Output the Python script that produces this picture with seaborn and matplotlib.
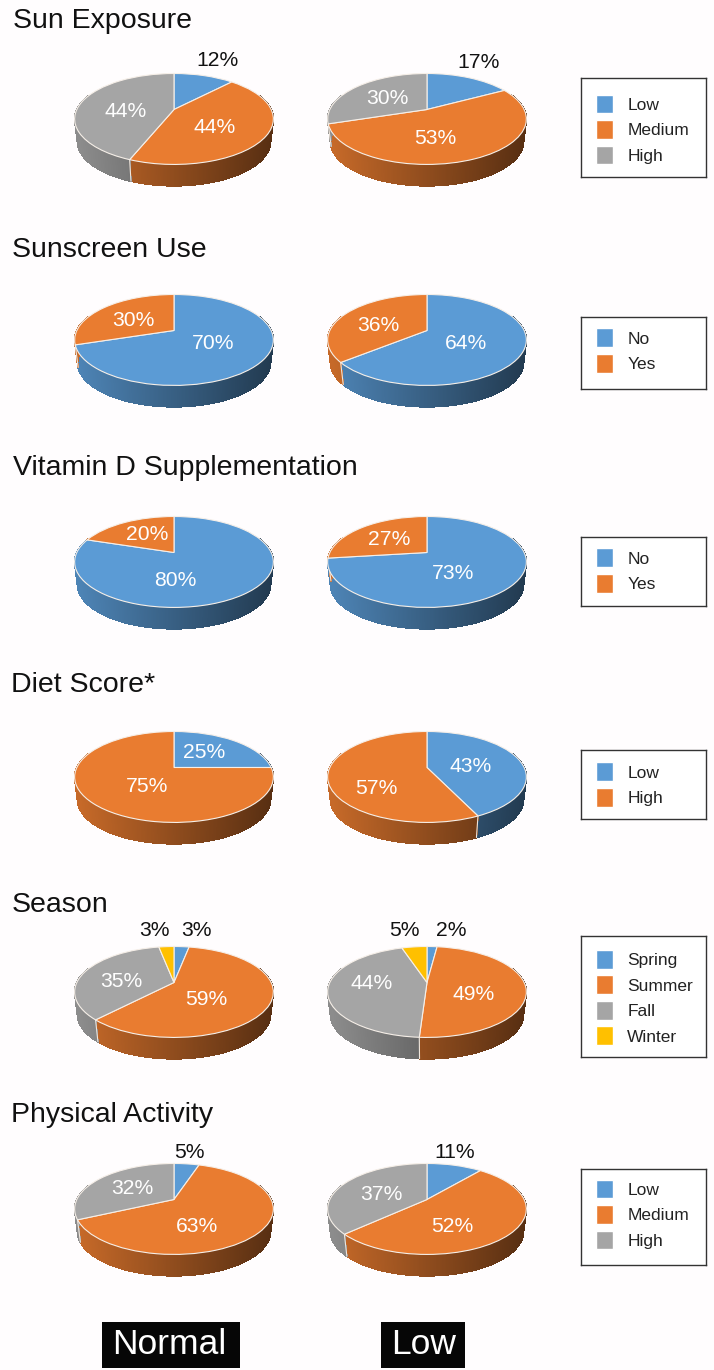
import numpy as np
import pandas as pd
import seaborn as sns
import matplotlib.pyplot as plt
from matplotlib.collections import PolyCollection
from matplotlib.patches import Patch
from matplotlib.transforms import Transform

# Datos

titles = ["Sun Exposure", "Sunscreen Use", "Vitamin D Supplementation", "Diet Score*", "Season", "Physical Activity"]
categories = [
    ["Low", "Medium", "High"],
    ["No", "Yes"],
    ["No", "Yes"],
    ["Low", "High"],
    ["Spring", "Summer", "Fall", "Winter"],
    ["Low", "Medium", "High"],
]
normal_values = [
    [12, 44, 44],
    [70, 30],
    [80, 20],
    [25, 75],
    [3, 59, 35, 3],
    [5, 63, 32],
]
low_values = [
    [17, 53, 30],
    [64, 36],
    [73, 27],
    [43, 57],
    [2, 49, 44, 5],
    [11, 52, 37],
]
group_names = ["Normal", "Low"]

# Layout en pixeles

W, H = 714, 1370
pie_top = [73, 294, 516, 731, 946, 1163]
pie_cx = [174, 427]
title_xy = [(13, 21), (12, 250), (13, 468), (11, 685), (12, 905), (11, 1115)]
legend_y = [(78, 177), (317, 389), (537, 606), (750, 819), (936, 1057), (1169, 1265)]
legend_mid = [129, 350, 570, 784, 997, 1214]
normal_label_xy = [
    [(217, 60), (215, 127), (126, 111)],
    [(213, 343), (133, 320)],
    [(175, 580), (147, 534)],
    [(204, 752), (147, 786)],
    [(196, 930), (206, 999), (121, 981), (154, 930)],
    [(189, 1153), (197, 1226), (132, 1189)],
]
low_label_xy = [
    [(479, 62), (435, 138), (387, 98)],
    [(466, 343), (378, 325)],
    [(453, 573), (389, 539)],
    [(471, 766), (376, 788)],
    [(451, 930), (474, 994), (372, 983), (404, 930)],
    [(455, 1152), (452, 1226), (381, 1194)],
]

RX, RY, DEPTH = 97.2, 43.5, 23
P = 0.208  # perspectiva
SHRINK = 0.97

sns.set_theme(style="white")
plt.rcParams["font.family"] = ["Liberation Sans", "DejaVu Sans"]
palette = sns.color_palette(["#5B9BD5", "#E97C30", "#A5A5A5", "#FFC000"])
BG = "#fffdfe"


class Tilt(Transform):
    input_dims = 2
    output_dims = 2

    def transform_non_affine(self, xy):
        xy = np.asarray(xy, dtype=float)
        return xy / (1 + P * xy[:, 1:2])


def rim(theta):
    x, y = np.sin(theta), np.cos(theta)
    w = 1 + P * y
    return x / w, y / w


def draw_pie(values, cx, top):
    apex = top + 36.5
    x0, x1 = cx - 112, cx + 112
    y0, y1 = apex - 45, apex + 90
    ax = fig.add_axes([x0 / W, 1 - y1 / H, (x1 - x0) / W, (y1 - y0) / H])

    wedges, _ = ax.pie(values, colors=palette[:len(values)], startangle=90, counterclock=False,
                       wedgeprops={"edgecolor": "#f6efe8", "linewidth": 0.8})
    tilt = Tilt()
    for w in wedges:
        w.set_transform(tilt + ax.transData)
    ax.set_aspect("auto")
    ax.set_xlim(-112 / RX, 112 / RX)
    ax.set_ylim(-90 / RY, 45 / RY)

    # Pared lateral
    d = DEPTH / RY
    ends = np.cumsum(values) / np.sum(values) * 2 * np.pi
    starts = np.r_[0, ends[:-1]]
    for start, end, color in zip(starts, ends, palette):
        t = np.linspace(start, end, max(int((end - start) * 90), 2))
        t = t[np.cos(t) < 0.35]
        if len(t) < 2:
            continue
        X, Y = rim(t)
        BX, BY = X * SHRINK, Y * SHRINK - d
        polys = [[(X[i], Y[i]), (X[i + 1], Y[i + 1]), (BX[i + 1], BY[i + 1]), (BX[i], BY[i])]
                 for i in range(len(t) - 1)]
        shade = 0.85 - 0.47 * (np.clip(X[:-1], -1, 1) + 1) / 2
        faces = np.outer(shade, np.array(color))
        ax.add_collection(PolyCollection(polys, facecolors=faces, edgecolors=faces,
                                         linewidths=0.5, antialiaseds=False, zorder=0.5))

    for a in ends:
        if np.cos(a) < 0:
            X, Y = rim(np.array([a]))
            ax.plot([X[0], X[0] * SHRINK], [Y[0], Y[0] * SHRINK - d], color="#f0e6dc", lw=0.8, zorder=0.6)
    return ax


fig = plt.figure(figsize=(W / 100, H / 100), dpi=100, facecolor=BG)

for row, title in enumerate(titles):
    for values, cx in zip([normal_values[row], low_values[row]], pie_cx):
        draw_pie(values, cx, pie_top[row])

    # Leyenda
    y0, y1 = legend_y[row]
    lax = fig.add_axes([581 / W, 1 - y1 / H, 125 / W, (y1 - y0) / H], facecolor="white")
    lax.set_xticks([])
    lax.set_yticks([])
    for s in lax.spines.values():
        s.set_color("#333333")
        s.set_linewidth(1)
    handles = [Patch(facecolor=c, label=n) for c, n in zip(palette, categories[row])]
    lax.legend(handles=handles, loc="center left", bbox_to_anchor=(0, (y1 - legend_mid[row] - 0.5) / (y1 - y0)),
               frameon=False, fontsize=12.5, labelspacing=0.38, handlelength=1, handleheight=1.3,
               handletextpad=0.8, borderpad=0, borderaxespad=0.86, labelcolor="#222222")

# Textos

over = fig.add_axes([0, 0, 1, 1], zorder=10)
over.patch.set_alpha(0)
over.set_xlim(0, W)
over.set_ylim(H, 0)
over.axis("off")

for row, title in enumerate(titles):
    x, y = title_xy[row]
    over.text(x, y, title, fontsize=20.5, color="#111111", ha="left", va="center")
    for values, pos in zip([normal_values[row], low_values[row]], [normal_label_xy[row], low_label_xy[row]]):
        for v, (x, y) in zip(values, pos):
            c = "#111111" if y < pie_top[row] else "white"
            over.text(x, y, f"{v}%", fontsize=15.2, color=c, ha="center", va="center")

for name, cx, bx0, bx1 in zip(group_names, [169, 424], [102, 381], [240, 465]):
    over.fill_between([bx0, bx1], 1322, 1368, color="#060606", lw=0)
    over.text(cx, 1345, name, fontsize=25.5, color="white", ha="center", va="center")

fig.savefig("out.png", dpi=100, facecolor=BG)
